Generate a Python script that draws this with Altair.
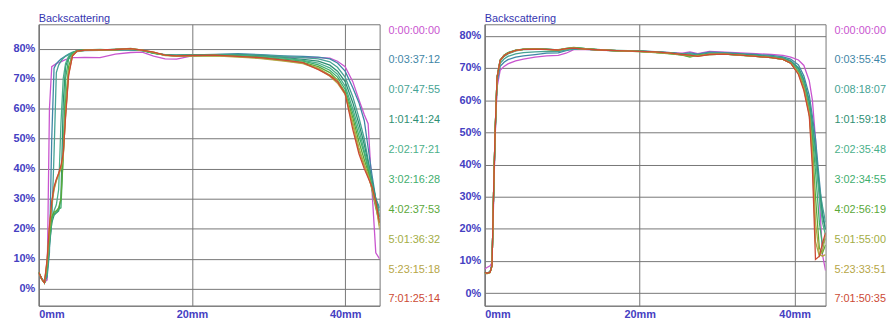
import altair as alt
import pandas as pd

# ---------------- data ----------------
LEFT_LABELS = ["0:00:00:00", "0:03:37:12", "0:07:47:55", "1:01:41:24", "2:02:17:21",
               "3:02:16:28", "4:02:37:53", "5:01:36:32", "5:23:15:18", "7:01:25:14"]
RIGHT_LABELS = ["0:00:00:00", "0:03:55:45", "0:08:18:07", "1:01:59:18", "2:02:35:48",
                "3:02:34:55", "4:02:56:19", "5:01:55:00", "5:23:33:51", "7:01:50:35"]

X_LEFT = [0, 0.4, 0.75, 1.1, 1.4, 1.7, 2.0, 2.3, 2.6, 2.9,
          3.2, 3.5, 3.9, 4.4, 5.0, 6.0, 8.0, 10.0, 12.0, 13.5,
          15.0, 16.5, 18.0, 20.0, 23.0, 26.0, 29.0, 32.0, 34.5, 36.5,
          38.0, 39.0, 40.0, 41.0, 41.8, 42.5, 43.0, 43.5, 44.0, 44.5]

L0 = [5.5, 3.5, 2.2, 3.0, 60.0, 74.0, 74.5, 75.0, 75.3, 75.6,
      76.0, 76.3, 76.7, 77.0, 77.0, 77.1, 77.0, 78.2, 78.7, 78.8,
      77.5, 76.6, 76.5, 77.6, 77.8, 77.9, 77.6, 77.2, 77.0, 77.0,
      76.8, 75.8, 74.0, 69.0, 63.0, 58.0, 55.0, 33.0, 12.0, 10.0]
L1 = [5.5, 3.4, 2.1, 4.0, 12.0, 50.0, 73.5, 75.0, 75.8, 76.5,
      77.0, 77.5, 78.0, 78.6, 79.0, 79.3, 79.4, 79.5, 79.6, 79.4,
      78.6, 78.0, 77.8, 77.9, 78.1, 78.3, 78.0, 77.6, 77.4, 77.2,
      76.6, 75.2, 72.5, 67.0, 62.0, 56.0, 47.0, 38.0, 30.0, 27.0]
L2 = [5.5, 3.4, 2.1, 5.0, 14.0, 22.0, 45.0, 72.0, 74.5, 75.8,
      76.8, 77.5, 78.2, 78.8, 79.2, 79.4, 79.5, 79.6, 79.7, 79.3,
      78.5, 77.9, 77.7, 77.8, 78.0, 78.1, 77.8, 77.4, 77.0, 76.6,
      75.6, 73.8, 70.5, 64.0, 57.0, 50.0, 43.0, 36.0, 30.0, 26.0]
L3 = [5.5, 3.3, 2.0, 6.0, 15.0, 22.0, 24.5, 25.3, 26.0, 30.0,
      62.0, 74.0, 77.0, 78.5, 79.3, 79.6, 79.5, 79.8, 79.7, 79.4,
      78.5, 77.9, 77.8, 77.9, 78.0, 77.9, 77.6, 77.0, 76.4, 75.8,
      74.5, 72.5, 69.0, 62.0, 55.0, 48.0, 42.0, 36.0, 30.0, 24.0]
L4 = [5.5, 3.3, 2.0, 6.0, 16.0, 23.0, 26.0, 28.0, 33.0, 55.0,
      70.0, 75.0, 77.5, 78.6, 79.2, 79.5, 79.4, 79.6, 79.8, 79.3,
      78.4, 77.8, 77.7, 77.8, 77.9, 77.8, 77.4, 76.8, 76.1, 75.2,
      73.6, 71.5, 67.5, 60.0, 53.0, 46.0, 41.0, 35.0, 29.0, 24.0]
L5 = [5.5, 3.3, 2.0, 7.0, 17.0, 23.5, 25.0, 25.5, 26.5, 27.0,
      45.0, 70.0, 76.5, 78.5, 79.3, 79.6, 79.7, 79.5, 79.9, 79.4,
      78.5, 77.8, 77.6, 77.7, 77.8, 77.6, 77.2, 76.5, 75.8, 74.6,
      72.8, 70.5, 66.5, 58.5, 51.0, 45.0, 40.0, 34.0, 28.0, 23.0]
L6 = [5.5, 3.2, 2.0, 8.0, 18.0, 24.0, 25.5, 26.0, 27.0, 30.0,
      44.0, 62.0, 74.0, 78.0, 79.2, 79.6, 79.6, 79.7, 80.1, 79.5,
      78.6, 77.8, 77.5, 77.6, 77.7, 77.4, 77.0, 76.2, 75.4, 74.0,
      72.0, 69.5, 65.5, 57.0, 49.0, 43.0, 39.0, 33.0, 27.0, 22.0]
L7 = [5.5, 3.2, 2.0, 9.0, 20.0, 28.0, 33.0, 36.0, 38.0, 40.0,
      44.0, 58.0, 72.0, 77.8, 79.2, 79.5, 79.6, 79.6, 80.0, 79.5,
      78.7, 77.8, 77.5, 77.6, 77.7, 77.3, 76.8, 76.0, 75.2, 73.5,
      71.2, 69.5, 65.0, 55.5, 47.0, 41.5, 38.0, 33.5, 28.0, 21.0]
L8 = [5.5, 3.2, 2.0, 9.5, 20.5, 28.5, 33.5, 36.2, 38.3, 40.5,
      44.5, 57.5, 71.5, 77.6, 79.1, 79.4, 79.5, 79.7, 79.9, 79.4,
      78.8, 77.7, 77.5, 77.6, 77.6, 77.2, 76.7, 75.8, 75.0, 73.2,
      70.8, 68.5, 64.8, 54.5, 46.0, 41.0, 37.5, 33.5, 28.0, 20.0]
L9 = [5.5, 3.2, 2.0, 10.0, 21.0, 29.0, 34.0, 36.5, 38.5, 41.0,
      45.0, 57.0, 71.0, 77.5, 79.2, 79.5, 79.6, 79.7, 80.0, 79.5,
      78.8, 77.8, 77.6, 77.7, 77.8, 77.4, 77.0, 76.2, 75.3, 73.0,
      71.0, 69.0, 65.0, 53.0, 45.0, 40.0, 37.0, 34.0, 29.0, 22.0]

X_RIGHT = [0, 0.3, 0.7, 0.95, 1.15, 1.35, 1.6, 2.0, 2.5, 3.0,
           4.0, 5.0, 6.5, 8.0, 9.5, 10.5, 11.5, 13.0, 15.0, 17.0,
           20.0, 22.0, 24.0, 25.5, 26.5, 27.5, 29.0, 31.0, 33.0, 35.0,
           37.0, 38.5, 39.5, 40.5, 41.2, 41.9, 42.3, 42.7, 43.2, 43.6, 44.0]

R0 = [7.5, 8.0, 8.5, 9.5, 28.0, 48.0, 64.0, 69.3, 70.5, 71.3,
      72.2, 72.8, 73.4, 73.8, 73.9, 74.6, 75.7, 75.8, 75.5, 75.4,
      75.2, 75.0, 74.8, 74.6, 75.0, 74.5, 75.2, 74.9, 74.7, 74.5,
      74.2, 73.9, 73.4, 72.5, 70.8, 66.0, 60.0, 48.0, 30.0, 12.0, 7.0]
R1 = [6.5, 6.3, 6.6, 9.0, 30.0, 49.0, 65.5, 70.5, 71.8, 72.6,
      73.4, 73.8, 74.2, 74.6, 74.7, 75.4, 75.9, 75.8, 75.6, 75.4,
      75.3, 75.1, 74.8, 74.4, 74.7, 74.3, 74.9, 74.8, 74.5, 74.2,
      73.9, 73.5, 72.8, 71.0, 67.5, 61.5, 55.0, 48.0, 35.0, 25.0, 20.0]
R2 = [6.5, 6.3, 6.6, 9.0, 30.0, 49.5, 66.0, 71.5, 72.8, 73.6,
      74.4, 74.8, 75.0, 75.2, 75.1, 75.6, 76.0, 75.9, 75.6, 75.4,
      75.2, 75.0, 74.7, 74.3, 74.5, 74.0, 74.7, 74.6, 74.3, 74.0,
      73.6, 73.2, 72.3, 70.2, 66.5, 60.0, 53.0, 45.0, 33.0, 27.0, 22.0]
R3 = [6.4, 6.2, 6.5, 8.8, 31.0, 50.0, 67.0, 72.2, 73.6, 74.4,
      75.3, 75.7, 75.8, 75.9, 75.6, 75.9, 76.3, 76.0, 75.7, 75.5,
      75.3, 75.0, 74.7, 74.3, 74.1, 73.9, 74.5, 74.5, 74.2, 73.9,
      73.5, 73.0, 72.0, 69.8, 66.0, 59.0, 52.0, 44.0, 32.0, 24.0, 19.8]
R4 = [6.4, 6.2, 6.5, 8.7, 31.0, 50.5, 67.2, 72.4, 73.9, 74.7,
      75.5, 75.8, 75.9, 75.8, 75.5, 75.8, 76.2, 75.9, 75.6, 75.4,
      75.2, 75.0, 74.6, 74.2, 74.3, 73.8, 74.4, 74.4, 74.1, 73.8,
      73.4, 72.9, 71.8, 69.5, 65.5, 58.0, 51.0, 42.0, 30.0, 22.0, 18.0]
R5 = [6.4, 6.2, 6.5, 8.6, 31.0, 50.5, 67.0, 72.5, 74.0, 74.8,
      75.6, 75.9, 76.0, 75.9, 75.6, 76.0, 76.3, 76.0, 75.6, 75.3,
      75.2, 74.9, 74.5, 74.1, 73.6, 73.9, 74.3, 74.3, 74.0, 73.7,
      73.3, 72.8, 71.7, 69.0, 64.5, 57.0, 49.0, 38.0, 22.0, 15.0, 17.0]
R6 = [6.3, 6.1, 6.4, 8.6, 31.0, 50.0, 67.0, 72.4, 74.0, 74.7,
      75.5, 75.9, 76.0, 75.8, 75.7, 76.1, 76.4, 76.0, 75.6, 75.3,
      75.1, 74.8, 74.4, 74.0, 73.4, 74.0, 74.2, 74.3, 73.9, 73.6,
      73.2, 72.7, 71.5, 68.5, 64.0, 56.0, 46.0, 30.0, 14.0, 12.5, 15.0]
R7 = [6.3, 6.1, 6.4, 8.5, 31.0, 50.0, 67.0, 72.4, 73.9, 74.6,
      75.5, 75.8, 75.9, 75.8, 75.6, 76.0, 76.2, 75.9, 75.6, 75.4,
      75.1, 74.9, 74.5, 74.1, 73.8, 73.7, 74.2, 74.3, 74.0, 73.6,
      73.2, 72.7, 71.5, 68.3, 63.5, 55.5, 42.0, 16.0, 11.5, 13.0, 18.0]
R8 = [6.3, 6.1, 6.4, 8.5, 31.0, 50.0, 67.0, 72.3, 73.8, 74.6,
      75.4, 75.8, 75.9, 75.7, 75.6, 76.0, 76.2, 75.9, 75.6, 75.4,
      75.2, 74.9, 74.6, 74.2, 73.9, 73.8, 74.3, 74.3, 74.0, 73.6,
      73.2, 72.7, 71.6, 68.5, 64.0, 56.0, 44.0, 22.0, 12.0, 11.5, 12.0]
R9 = [6.5, 6.2, 6.5, 8.5, 31.0, 50.0, 67.0, 72.4, 73.8, 74.6,
      75.5, 75.8, 75.9, 75.8, 75.6, 76.0, 76.2, 75.9, 75.6, 75.4,
      75.2, 75.0, 74.6, 74.2, 74.0, 73.6, 74.2, 74.3, 74.0, 73.6,
      73.2, 72.7, 71.5, 68.0, 63.0, 55.0, 39.0, 10.5, 11.5, 15.5, 18.8]

LEFT_SERIES = [L0, L1, L2, L3, L4, L5, L6, L7, L8, L9]
RIGHT_SERIES = [R0, R1, R2, R3, R4, R5, R6, R7, R8, R9]

# ---------------- style ----------------
PALETTE = ["#c955cf", "#3f86a6", "#46a394", "#2e8f73", "#4bb08a",
           "#3fae6e", "#5aa83a", "#a3ad45", "#b6a646", "#cc4a34"]
AXIS_BLUE = "#4540c2"
GRID = "#767676"
FONT = "Liberation Sans"


def panel(xs, series, labels, x_max, y_min, y_max, w, h):
    rows = []
    for i, ys in enumerate(series):
        for x, y in zip(xs, ys):
            rows.append({"x": x, "y": y, "idx": i})
    df = pd.DataFrame(rows)
    leg = pd.DataFrame({"rank": list(range(len(labels))), "label": labels,
                        "idx": list(range(len(labels)))})

    color = alt.Color("idx:N", scale=alt.Scale(domain=list(range(10)), range=PALETTE),
                      legend=None)
    xsc = alt.Scale(domain=[0, x_max], nice=False, zero=False)

    lines = alt.Chart(df).mark_line(strokeWidth=1.3, clip=True).encode(
        x=alt.X("x:Q", scale=xsc,
                axis=alt.Axis(values=[0, 20, 40], labelExpr="datum.value + 'mm'",
                              title=None, grid=True, labelPadding=3)),
        y=alt.Y("y:Q", scale=alt.Scale(domain=[y_min, y_max], nice=False, zero=False),
                axis=alt.Axis(values=[0, 10, 20, 30, 40, 50, 60, 70, 80],
                              labelExpr="datum.value + '%'", title=None, grid=True,
                              labelPadding=4)),
        color=color,
        detail="idx:N",
    )
    text = alt.Chart(leg).mark_text(align="left", baseline="middle", dx=9,
                                     fontSize=11, font=FONT).encode(
        x=alt.datum(x_max),
        y=alt.Y("rank:O", scale=alt.Scale(type="point", padding=0.21), axis=None),
        text="label:N",
        color=color,
    )
    return alt.layer(lines, text).resolve_scale(y="independent").properties(
        width=w, height=h,
        title=alt.TitleParams("Backscattering", anchor="start", frame="group",
                              fontSize=11, font=FONT, fontWeight="normal",
                              color="#3535b0", offset=0),
    )


left = panel(X_LEFT, LEFT_SERIES, LEFT_LABELS, 44.5, -5.6, 88.1, 344, 284)
right = panel(X_RIGHT, RIGHT_SERIES, RIGHT_LABELS, 44.0, -3.9, 83.6, 344, 284)

chart = alt.hconcat(left, right, spacing=106, bounds="flush").properties(
    padding={"left": 4, "top": 3, "right": 0, "bottom": 0}
).configure_axis(
    labelFont=FONT, labelFontSize=11, labelFontWeight="bold", labelColor=AXIS_BLUE,
    gridColor=GRID, gridWidth=1, gridOpacity=1, domainColor=GRID, ticks=False,
).configure_view(stroke=GRID, strokeWidth=1)

chart.save("out.html", embed_options={"renderer": "svg", "actions": False})
